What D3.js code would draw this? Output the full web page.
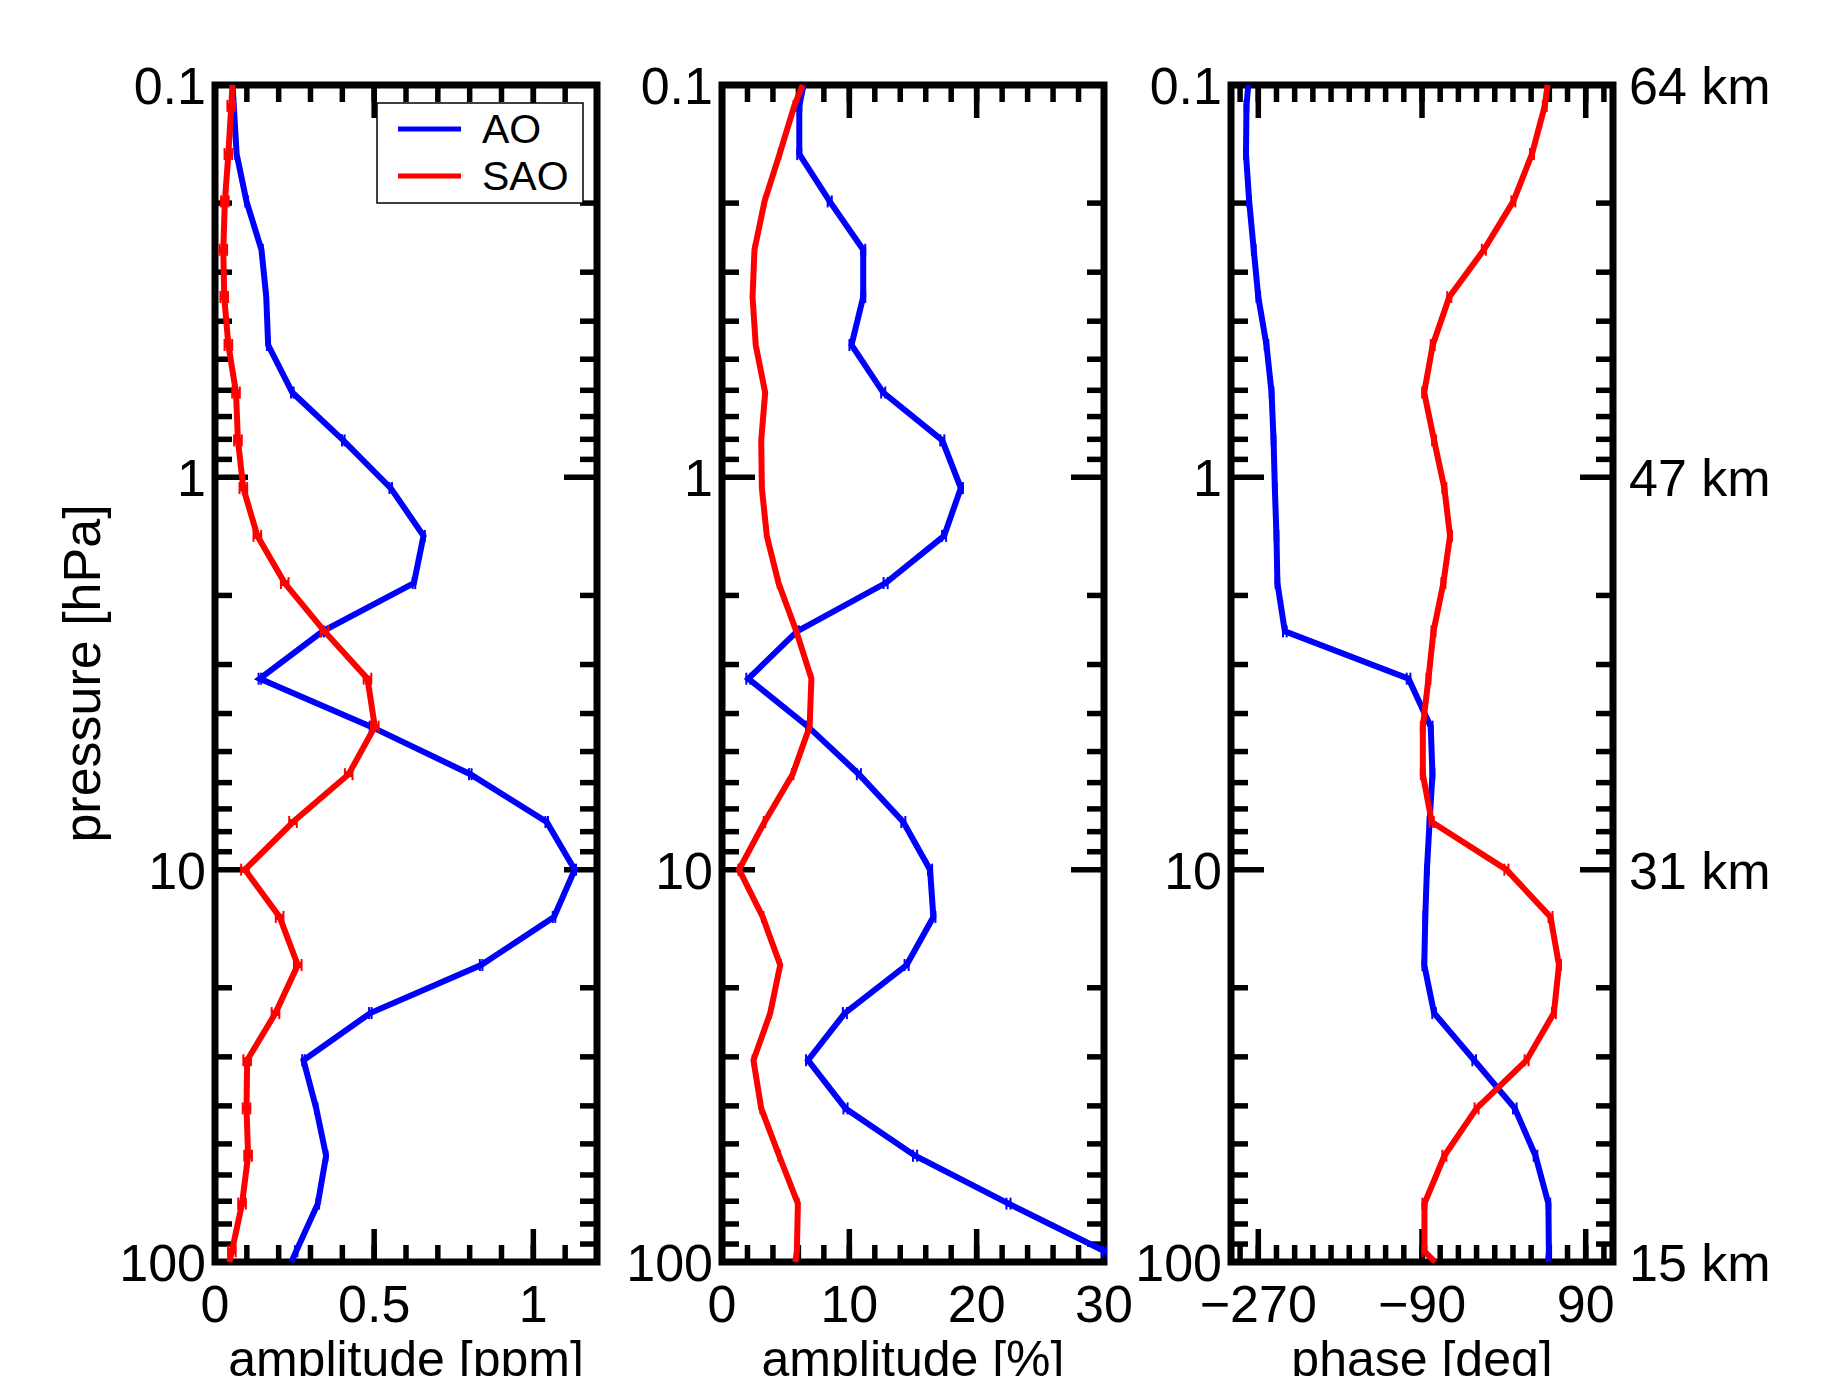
<!DOCTYPE html>
<html>
<head>
<meta charset="utf-8">
<script src="https://cdn.jsdelivr.net/npm/d3@7"></script>
<style>
  html, body { margin: 0; padding: 0; background: #fff; }
  svg { display: block; }
  text { font-family: "Liberation Sans", Arial, Helvetica, sans-serif; fill: #000; }
</style>
</head>
<body>
<div id="chart"></div>
<script>
// pressure levels [hPa]; first and last entries are where the curves meet the frame
const pressure = [0.1, 0.113, 0.150, 0.198, 0.263, 0.347, 0.460, 0.608, 0.805, 1.065, 1.41, 1.86,
  2.47, 3.26, 4.32, 5.71, 7.56, 10, 13.2, 17.5, 23.2, 30.6, 40.6, 53.6, 71.0, 93.9, 100];

// amplitude [ppm]
const aoPpm = [0.055, 0.059, 0.068, 0.099, 0.146, 0.161, 0.167, 0.243, 0.403, 0.552, 0.655, 0.625,
  0.338, 0.141, 0.49, 0.802, 1.042, 1.130, 1.065, 0.836, 0.488, 0.278, 0.318, 0.349, 0.323, 0.255, 0.24];
const saoPpm = [0.055, 0.051, 0.042, 0.031, 0.026, 0.029, 0.042, 0.066, 0.072, 0.089, 0.133, 0.219,
  0.344, 0.479, 0.502, 0.42, 0.245, 0.094, 0.203, 0.26, 0.19, 0.101, 0.099, 0.104, 0.085, 0.053, 0.045];

// amplitude [%]
const aoPct = [6.41, 6.07, 6.07, 8.46, 11.09, 11.09, 10.17, 12.66, 17.3, 18.76, 17.44, 12.85,
  5.89, 2.07, 6.76, 10.75, 14.24, 16.34, 16.6, 14.5, 9.65, 6.76, 9.7, 15.16, 22.5, 30.05, null];
const saoPct = [6.33, 5.68, 4.52, 3.34, 2.55, 2.40, 2.65, 3.39, 3.08, 3.13, 3.52, 4.44,
  5.84, 7.02, 6.88, 5.55, 3.34, 1.34, 3.2, 4.57, 3.79, 2.47, 3.08, 4.49, 5.96, 5.88, 5.76];

// phase [deg]
const aoPhase = [-281, -283, -283.5, -280, -275, -270, -261, -255.4, -253.2, -251.8, -250, -249,
  -240.8, -104.8, -80.4, -78.5, -81.7, -84.6, -86.4, -87.5, -76.7, -32.6, 12, 34.8, 49, 49.5, 48.5];
const saoPhase = [48, 45, 30.9, 10.4, -22, -60, -78.2, -87.6, -76.7, -65.4, -59.2, -66.5,
  -77.4, -82.9, -89.1, -89.1, -79.3, 2.8, 51.3, 60.6, 55, 25, -30, -65.4, -87.3, -87.3, -75.6];

// error bar half widths per panel
const aoErr = [0.004, 0.16, 2.0];
const saoErr = [0.012, 0.06, 2.2];

const pressureTicks = [0.1, 1, 10, 100];
const pressureLabels = ["0.1", "1", "10", "100"];
const altitudeLabels = ["64 km", "47 km", "31 km", "15 km"];

const ppmTicks = [0, 0.5, 1];
const ppmLabels = ["0", "0.5", "1"];
const pctTicks = [0, 10, 20, 30];
const pctLabels = ["0", "10", "20", "30"];
const phaseTicks = [-270, -90, 90];
const phaseLabels = ["\u2212270", "\u221290", "90"];

const seriesNames = ["AO", "SAO"];
const seriesColors = ["#0000ff", "#ff0000"];

const W = 1826, H = 1376;
const plotTop = 85, plotBottom = 1262, panelW = 382;
const majorLen = 33, minorLen = 17;
const fs = 52;

const svg = d3.select("#chart").append("svg")
  .attr("width", W).attr("height", H);

const y = d3.scaleLog().domain([0.1, 100]).range([plotTop, plotBottom]);

const yMinor = [];
[0.1, 1, 10].forEach(d => { for (let m = 2; m <= 9; m++) yMinor.push(d * m); });

const panels = [
  { left: 215, domain: [0, 1.2], major: ppmTicks, labels: ppmLabels,
    minor: d3.range(0, 1.2001, 0.1), title: "amplitude [ppm]", ao: aoPpm, sao: saoPpm },
  { left: 722, domain: [0, 30], major: pctTicks, labels: pctLabels,
    minor: d3.range(0, 30.001, 2), title: "amplitude [%]", ao: aoPct, sao: saoPct },
  { left: 1231, domain: [-300, 120], major: phaseTicks, labels: phaseLabels,
    minor: d3.range(-290, 120, 20), title: "phase [deg]", ao: aoPhase, sao: saoPhase }
];

panels.forEach((p, pi) => {
  const right = p.left + panelW;
  const x = d3.scaleLinear().domain(p.domain).range([p.left, right]);
  const g = svg.append("g");

  // ticks on all four sides, pointing inward
  const tickG = g.append("g").attr("stroke", "#000").attr("stroke-width", 5.5);
  const xTick = (v, len) => {
    tickG.append("line").attr("x1", x(v)).attr("x2", x(v)).attr("y1", plotBottom).attr("y2", plotBottom - len);
    tickG.append("line").attr("x1", x(v)).attr("x2", x(v)).attr("y1", plotTop).attr("y2", plotTop + len);
  };
  p.minor.forEach(v => xTick(v, minorLen));
  p.major.forEach(v => xTick(v, majorLen));
  const yTick = (v, len) => {
    tickG.append("line").attr("x1", p.left).attr("x2", p.left + len).attr("y1", y(v)).attr("y2", y(v));
    tickG.append("line").attr("x1", right).attr("x2", right - len).attr("y1", y(v)).attr("y2", y(v));
  };
  yMinor.forEach(v => yTick(v, minorLen));
  pressureTicks.forEach(v => yTick(v, majorLen));

  // frame
  g.append("rect")
    .attr("x", p.left).attr("y", plotTop)
    .attr("width", panelW).attr("height", plotBottom - plotTop)
    .attr("fill", "none").attr("stroke", "#000").attr("stroke-width", 7);

  // tick labels
  p.major.forEach((v, i) => {
    g.append("text").attr("x", x(v)).attr("y", 1322)
      .attr("text-anchor", "middle").attr("font-size", fs).text(p.labels[i]);
  });
  pressureTicks.forEach((v, i) => {
    g.append("text").attr("x", p.left - 9).attr("y", y(v) + 19)
      .attr("text-anchor", "end").attr("font-size", fs).text(pressureLabels[i]);
  });
  g.append("text").attr("x", (p.left + right) / 2).attr("y", 1376)
    .attr("text-anchor", "middle").attr("font-size", 50).text(p.title);

  // data
  const clipId = "clip" + pi;
  svg.append("clipPath").attr("id", clipId).append("rect")
    .attr("x", p.left - 3).attr("y", plotTop - 3)
    .attr("width", panelW + 6).attr("height", plotBottom - plotTop + 6);
  const dataG = svg.append("g").attr("clip-path", `url(#${clipId})`);

  [p.ao, p.sao].forEach((vals, si) => {
    const pts = pressure.map((pr, i) => ({ p: pr, v: vals[i], i }));
    const line = d3.line()
      .defined(d => d.v !== null)
      .x(d => x(d.v)).y(d => y(d.p));
    dataG.append("path").datum(pts)
      .attr("fill", "none").attr("stroke", seriesColors[si])
      .attr("stroke-width", 6).attr("stroke-linejoin", "miter")
      .attr("d", line);

    const err = si === 0 ? aoErr[pi] : saoErr[pi];
    const inner = pts.filter(d => d.v !== null && d.i > 0 && d.i < pressure.length - 1);
    inner.forEach(d => {
      const yy = y(d.p), x0 = x(d.v - err), x1 = x(d.v + err);
      dataG.append("line").attr("x1", x0).attr("x2", x1).attr("y1", yy).attr("y2", yy)
        .attr("stroke", seriesColors[si]).attr("stroke-width", 6);
      [x0, x1].forEach(xc => {
        dataG.append("line").attr("x1", xc).attr("x2", xc).attr("y1", yy - 6).attr("y2", yy + 6)
          .attr("stroke", seriesColors[si]).attr("stroke-width", 2);
      });
    });
  });

  // altitude labels on the right of the last panel
  if (pi === panels.length - 1) {
    pressureTicks.forEach((v, i) => {
      g.append("text").attr("x", right + 16).attr("y", y(v) + 19)
        .attr("text-anchor", "start").attr("font-size", fs).text(altitudeLabels[i]);
    });
  }
});

// y axis title
svg.append("text")
  .attr("transform", `translate(100, ${(plotTop + plotBottom) / 2}) rotate(-90)`)
  .attr("text-anchor", "middle").attr("font-size", 52).text("pressure [hPa]");

// legend
const leg = svg.append("g");
leg.append("rect").attr("x", 377).attr("y", 103).attr("width", 206).attr("height", 100)
  .attr("fill", "#fff").attr("stroke", "#000").attr("stroke-width", 1.5);
seriesNames.forEach((name, i) => {
  const ly = 129 + i * 47;
  leg.append("line").attr("x1", 398).attr("x2", 461).attr("y1", ly).attr("y2", ly)
    .attr("stroke", seriesColors[i]).attr("stroke-width", 5);
  leg.append("text").attr("x", 482).attr("y", ly + 14).attr("font-size", 41).text(name);
});
</script>
</body>
</html>
